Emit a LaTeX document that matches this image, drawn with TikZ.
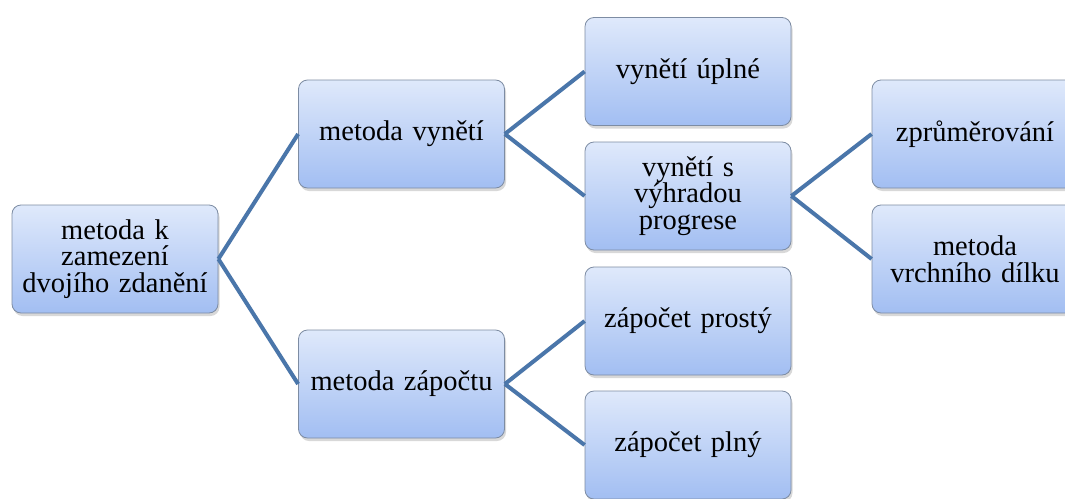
\documentclass[tikz,border=0pt]{standalone}
\usepackage{fontspec}
\newfontfamily\boxfont{LiberationSerif}[Extension=.ttf, UprightFont=*-Regular, BoldFont=*-Bold]
\usetikzlibrary{shadows}
\definecolor{boxtop}{HTML}{DFE9FB}
\definecolor{boxbot}{HTML}{A2BEF2}
\definecolor{boxborder}{HTML}{7D8CA3}
\definecolor{linkblue}{HTML}{4A76AA}
\begin{document}
\begin{tikzpicture}[x=1pt,y=-1pt,
  box/.style={draw=boxborder, line width=0.8pt, rounded corners=9pt,
    top color=boxtop, bottom color=boxbot,
    minimum width=206pt, minimum height=108pt, text width=202pt,
    align=center, inner sep=0pt, font=\boxfont\fontsize{28.5}{26.5}\selectfont,
    drop shadow={shadow xshift=1.5pt, shadow yshift=-3pt, opacity=0.3}},
  link/.style={draw=linkblue, line width=4pt}]
\useasboundingbox (0,0) rectangle (1065,498);
\clip (0,0) rectangle (1065,498);
\fill[white] (0,0) rectangle (1065,498);
\node[box] (root) at (115,259) {metoda k\\zamezení\\dvojího zdanění};
\node[box] (vyn) at (401.5,134) {metoda vynětí};
\node[box] (zap) at (401.5,384) {metoda zápočtu};
\node[box] (vu) at (688,71.5) {vynětí úplné};
\node[box] (vp) at (688,196) {vynětí s\\výhradou\\progrese};
\node[box] (zpr) at (688,321) {zápočet prostý};
\node[box] (zpl) at (688,445) {zápočet plný};
\node[box] (prum) at (975,134) {zprůměrování};
\node[box] (vrch) at (975,259) {metoda\\vrchního dílku};
\draw[link] (root.east) -- (vyn.west);
\draw[link] (root.east) -- (zap.west);
\draw[link] (vyn.east) -- (vu.west);
\draw[link] (vyn.east) -- (vp.west);
\draw[link] (vp.east) -- (prum.west);
\draw[link] (vp.east) -- (vrch.west);
\draw[link] (zap.east) -- (zpr.west);
\draw[link] (zap.east) -- (zpl.west);
\end{tikzpicture}
\end{document}
